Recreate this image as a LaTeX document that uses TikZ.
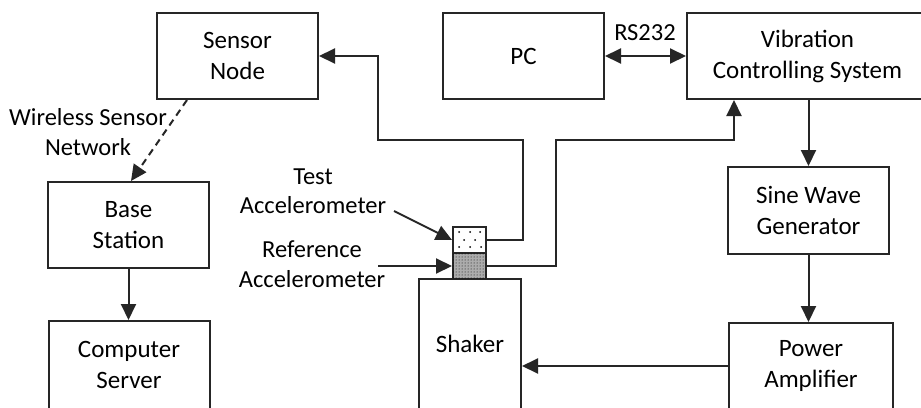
\documentclass[tikz,border=0pt]{standalone}
\usepackage{fontspec}
\setmainfont{Carlito}
\usetikzlibrary{arrows.meta,patterns,calc}
\begin{document}
\begin{tikzpicture}[x=1pt,y=-1pt,
  box/.style={draw=black!85,line width=2pt,rectangle,inner sep=0pt,align=center,
    font=\fontsize{25}{31}\selectfont},
  lbl/.style={align=center,inner sep=0pt,font=\fontsize{24.5}{29.5}\selectfont},
  conn/.style={draw=black!85,line width=2pt,-{Triangle[length=16pt,width=15pt]}},
  dconn/.style={conn,{Triangle[length=16pt,width=15pt]}-{Triangle[length=16pt,width=15pt]}}]
\useasboundingbox (0,0) rectangle (921,407);
\clip (0,0) rectangle (921,407);
\fill[white] (0,0) rectangle (921,407);
% boxes
\node[box,minimum width=161,minimum height=86] (sn) at (237.5,56) {Sensor\\Node};
\node[box,minimum width=161,minimum height=86] (pc) at (523.5,56) {PC};
\node[box,minimum width=241,minimum height=86] (vcs) at (807.5,56) {Vibration\\Controlling System};
\node[box,minimum width=161,minimum height=86] (bs) at (128.5,225) {Base\\Station};
\node[box,minimum width=161,minimum height=88] (cs) at (129,365) {Computer\\Server};
\node[box,minimum width=161,minimum height=87] (swg) at (808.5,210.5) {Sine Wave\\Generator};
\node[box,minimum width=164,minimum height=86] (pa) at (811,366) {Power\\Amplifier};
\node[box,minimum width=102,minimum height=130] (sh) at (470,344) {Shaker};
% accelerometers
\node[box,minimum width=33,minimum height=26,fill=white] (ta) at (469.5,240) {};
\node[box,minimum width=33,minimum height=26,fill=gray!65,postaction={pattern=dots}] (ra) at (469.5,266) {};
\foreach \p in {(459,232),(470,232),(480,232),(464,240),(475,240),(459,247),(470,247),(481,247)}
  \fill[black] \p circle (1);
% labels
\node[lbl] (rs) at (645,33) {RS232};
\node[lbl] (wsn) at (88,132) {Wireless Sensor\\Network};
\node[lbl] (tl) at (313,191) {Test\\Accelerometer};
\node[lbl] (rl) at (312,264) {Reference\\Accelerometer};
\coordinate (tstart) at (394,211);
\coordinate (rstart) at (378,266);
% connectors
\draw[dconn] (pc.east) -- (vcs.west);
\draw[conn] (swg.north |- vcs.south) -- (swg.north);
\draw[conn] (swg.south) -- (swg.south |- pa.north);
\draw[conn] (pa.west) -- (pa.west -| sh.east);
\draw[conn] (bs.south) -- (bs.south |- cs.north);
\draw[conn,dash pattern=on 7pt off 5pt] ($(sn.south west)+(31,0)$) -- ($(bs.north west)+(84,0)$);
\draw[conn] (ta.east) -- ++(36,0) |- (378,140) |- (sn.east);
\draw[conn] (ra.east) -| (556,140) -| ($(vcs.south west)+(48,0)$);
\draw[conn] (tstart) -- (ta.west);
\draw[conn] (rstart) -- (ra.west);
\end{tikzpicture}
\end{document}
